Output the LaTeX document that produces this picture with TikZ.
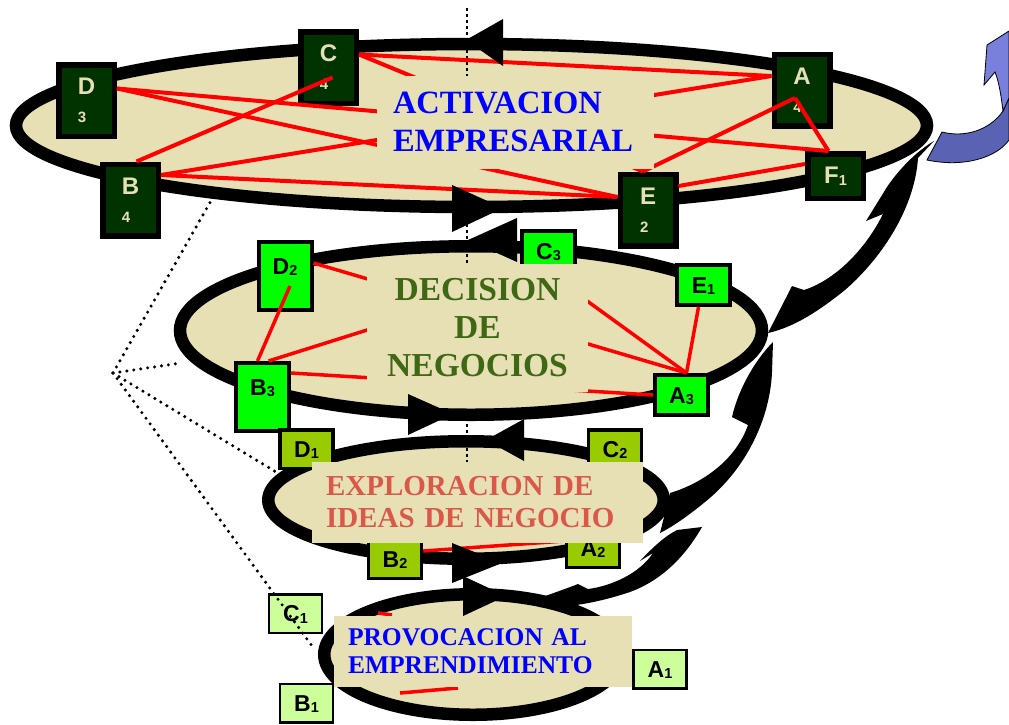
\documentclass[tikz,border=0pt]{standalone}
\usepackage{fontspec}
\setmainfont{Liberation Serif}
\setsansfont{Liberation Sans}
\definecolor{oval}{HTML}{E6E0B4}
\definecolor{deepgreen}{HTML}{003300}
\definecolor{levtwo}{HTML}{00FF00}
\definecolor{levthree}{HTML}{99CC00}
\definecolor{levfour}{HTML}{CCFF99}
\definecolor{decgreen}{HTML}{3F6814}
\definecolor{explred}{HTML}{D9584A}
\definecolor{upblue}{HTML}{7880DC}
\definecolor{upshade}{HTML}{5A62B4}
\newcommand\lsub[1]{\raisebox{-1.5pt}{\fontsize{14.5}{14.5}\selectfont #1}}
\newcommand\lnum[1]{{\fontsize{15}{27}\selectfont #1}}

\begin{document}
\begin{tikzpicture}[
  x=1pt, y=-1pt,
  ring/.style={draw=black, fill=oval, line width=12.5pt},
  topbox/.style={draw=black, fill=deepgreen, line width=5.5pt, text=oval,
    font=\sffamily\bfseries\fontsize{24}{28}\selectfont, align=left,
    inner sep=1pt, minimum width=55.5pt, minimum height=71.5pt},
  cardbox/.style={draw=black, text=black,
    font=\sffamily\bfseries\fontsize{23}{23}\selectfont,
    text height=16.5pt, text depth=0pt, inner sep=1pt, minimum width=53pt},
  midbox/.style={cardbox, fill=levtwo, line width=4pt, minimum height=40pt},
  lowbox/.style={cardbox, fill=levthree, line width=3.5pt, minimum height=38.5pt},
  basebox/.style={cardbox, fill=levfour, line width=2.5pt, minimum height=38.5pt},
  tall/.style={minimum height=68pt, text depth=20.5pt},
  link/.style={draw=red, line width=4pt},
  labelbox/.style={fill=oval, inner ysep=2pt},
  flowhead/.style={fill=black},
  swoosh/.style={fill=black},
  axisdots/.style={line width=2.5pt, dash pattern=on 2.5pt off 3.5pt},
  fandots/.style={line width=3.4pt, line cap=round, dash pattern=on 0pt off 7pt}
]
\useasboundingbox (0,0) rectangle (1009,724);

\draw [ring] (471.5,125.5) ellipse [x radius=455.5pt, y radius=81.5pt];
\draw [ring] (471,330.5) ellipse [x radius=291pt, y radius=84.25pt];
\draw [ring] (466,500) ellipse [x radius=197.75pt, y radius=58.75pt];
\draw [ring] (473,654.5) ellipse [x radius=148.75pt, y radius=60.25pt];

\draw [axisdots] (467,8) -- (467,76);
\draw [axisdots] (467,200) -- (467,263);
\draw [axisdots] (467,418) -- (467,462);

\node (D) [topbox] at (86.5,100.5) {D\\\lnum{3}};
\node (C) [topbox] at (328.5,67.5) {C\\\lnum{4}};
\node (A) [topbox] at (802,90) {A\\\lnum{4}};
\node (B) [topbox] at (130.5,200) {B\\\lnum{4}};
\node (E) [topbox] at (648,210) {E\\\lnum{2}};
\node (F1) [topbox, minimum height=44.5pt] at (835.5,176) {F\lsub{1}};

\node (D2) [midbox, tall] at (285,276) {D\lsub{2}};
\node (B3) [midbox, tall] at (262.5,397) {B\lsub{3}};
\node (C3) [midbox] at (548.5,251) {C\lsub{3}};
\node (E1) [midbox] at (703.5,285) {E\lsub{1}};
\node (A3) [midbox] at (681.5,395) {A\lsub{3}};

\node (D1) [lowbox] at (306.5,449) {D\lsub{1}};
\node (C2) [lowbox] at (615,449) {C\lsub{2}};
\node (B2) [lowbox] at (395,559) {B\lsub{2}};
\node (A2) [lowbox] at (593,548) {A\lsub{2}};

\node (C1) [basebox] at (295.5,613.5) {C\lsub{1}};
\node (B1) [basebox] at (306.5,703) {B\lsub{1}};
\node (A1) [basebox] at (660,669) {A\lsub{1}};

\draw [link] ([yshift=12pt]D.east) -- ([xshift=-7pt]F1.north);
\draw [link] ([yshift=12pt]D.east) -- ([yshift=13pt]E.west);
\draw [link] ([xshift=6pt]B.north) -- ([xshift=4pt,yshift=-10pt]C.center);
\draw [link] ([yshift=25pt]B.east) -- ([yshift=14pt]A.west);
\draw [link] ([yshift=25pt]B.east) -- ([yshift=13pt]E.west);
\draw [link] ([yshift=13pt]C.east) -- ([yshift=14pt]A.west);
\draw [link] ([yshift=13pt]C.east) -- ([xshift=-5pt]E.north);
\draw [link] ([xshift=-7pt,yshift=-8pt]A.center) -- ([xshift=-5pt]E.north);
\draw [link] ([xshift=-7pt,yshift=-8pt]A.center) -- ([xshift=-7pt]F1.north);
\draw [link] ([yshift=24pt]E.east) -- ([yshift=12pt]F1.west);

\draw [link, line width=3.5pt] ([xshift=5pt,yshift=-10pt]D2.center) -- ([xshift=-5pt]B3.north);
\draw [link, line width=3.5pt] ([yshift=13pt]D2.east) -- ([xshift=5pt]A3.north);
\draw [link, line width=3.5pt] ([xshift=6pt]B3.north) -- (C3.south);
\draw [link, line width=3.5pt] ([yshift=24pt]B3.east) -- (A3.west);
\draw [link, line width=3.5pt] (C3.south) -- ([xshift=5pt]A3.north);
\draw [link, line width=3.5pt] ([xshift=-5pt]E1.south) -- ([xshift=5pt]A3.north);

\draw [link, line width=3.5pt] ([yshift=8pt]B2.east) -- ([yshift=7pt]A2.west);

\coordinate (p1) at (400,693);
\coordinate (p2) at (458,688);
\coordinate (p3) at (378,613);
\coordinate (p4) at (392,615);
\draw [link, line width=3.5pt] (p1) -- (p2);
\draw [link, line width=3.5pt] (p3) -- (p4);

\fill [flowhead] (466,40) -- (503,19) -- (503,66) -- cycle;
\fill [flowhead] (503,208) -- (452,185) -- (452,232) -- cycle;
\fill [flowhead] (468,240) -- (517,218) -- (517,262) -- cycle;
\fill [flowhead] (453,414) -- (408,394) -- (408,435) -- cycle;
\fill [flowhead] (486,440) -- (524,419) -- (524,461) -- cycle;
\fill [flowhead] (502,563) -- (452,543) -- (452,583) -- cycle;
\fill [flowhead] (506,596) -- (463,576) -- (463,616) -- cycle;

\node (act) [labelbox, text=blue, minimum width=277pt, minimum height=93pt,
  inner xsep=16pt, text width=245pt, align=left,
  font=\rmfamily\bfseries\fontsize{32.5}{38}\selectfont] at (515.5,122)
  {ACTIVACION\\EMPRESARIAL};
\node (dec) [labelbox, text=decgreen, minimum width=221pt, minimum height=128pt,
  align=center, font=\rmfamily\bfseries\fontsize{33.5}{38}\selectfont] at (477.5,327.5)
  {DECISION\\DE\\NEGOCIOS};
\node (expl) [labelbox, text=explred, minimum width=331pt, minimum height=81pt,
  inner xsep=14pt, text width=303pt, align=left,
  font=\rmfamily\bfseries\fontsize{29}{32}\selectfont] at (477.5,502.5)
  {EXPLORACION DE\\IDEAS DE NEGOCIO};
\node (prov) [labelbox, text=blue, minimum width=298pt, minimum height=71pt,
  inner xsep=14pt, text width=270pt, align=left,
  font=\rmfamily\bfseries\fontsize{25.5}{28}\selectfont] at (483,651.5)
  {PROVOCACION AL\\EMPRENDIMIENTO};

\coordinate (fan) at (113,373);
\coordinate (f1) at (212,199);
\coordinate (f2) at (181,363);
\coordinate (f3) at (276,472);
\coordinate (f4) at (315,650);
\draw [fandots] (fan) -- (f1);
\draw [fandots] (fan) -- (f2);
\draw [fandots] (fan) -- (f3);
\draw [fandots] (fan) -- (f4);

\fill [swoosh] (768,333) -- (792,286) -- (804,290) .. controls (835,280) and (865,250) .. (883,214)
  -- (866,221) -- (887,187) .. controls (897,172) and (915,152) .. (934,141)
  -- (918,158) .. controls (915,205) and (885,255) .. (845,290)
  .. controls (820,310) and (795,327) .. (768,333) -- cycle;
\fill [swoosh] (660,533) -- (670,493) .. controls (700,484) and (735,462) .. (748,425)
  -- (732,417) .. controls (738,390) and (755,360) .. (773,342)
  -- (772,372) .. controls (770,420) and (745,470) .. (705,502)
  .. controls (688,516) and (672,527) .. (660,533) -- cycle;
\fill [swoosh] (540,598) .. controls (556,592) and (568,588) .. (578,584)
  -- (588,589) .. controls (612,586) and (640,573) .. (653,553)
  -- (640,561) .. controls (652,548) and (665,536) .. (677,530) -- (702,527)
  .. controls (690,548) and (668,578) .. (630,592)
  .. controls (600,602) and (570,608) .. (540,607) -- cycle;

\filldraw [fill=upshade, draw=black, line width=0.8pt] (927,160) -- (942,132)
  .. controls (965,138) and (990,130) .. (1003,111) -- (1009,98) -- (1009,140)
  .. controls (997,157) and (965,168) .. (927,160) -- cycle;
\filldraw [fill=upblue, draw=black, line width=0.8pt] (1003,111)
  .. controls (1001,95) and (999,82) .. (995,72) -- (984,85) -- (987,45)
  -- (1009,31) -- (1009,98) -- cycle;
\end{tikzpicture}
\end{document}
